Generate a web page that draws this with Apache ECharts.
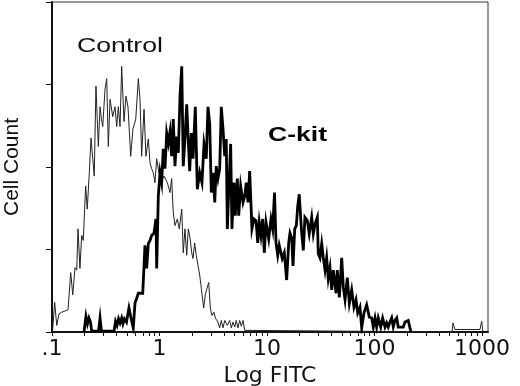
<!DOCTYPE html>
<html>
<head>
<meta charset="utf-8">
<script src="https://cdn.jsdelivr.net/npm/echarts@6/dist/echarts.min.js"></script>
<style>
  html, body { margin: 0; padding: 0; background: #fff; }
  #chart { width: 520px; height: 386px; }
</style>
</head>
<body>
<div id="chart"></div>
<script>
// x values are Log FITC in decades (log10), y values are cell counts
var controlLog = [-0.995, -0.975, -0.956, -0.935, -0.910, -0.888, -0.851, -0.826, -0.807, -0.786,
  -0.770, -0.758, -0.740, -0.724, -0.709, -0.687, -0.672, -0.653, -0.637, -0.621,
  -0.607, -0.591, -0.569, -0.553, -0.540, -0.528, -0.507, -0.491, -0.476, -0.460,
  -0.435, -0.414, -0.398, -0.383, -0.367, -0.352, -0.330, -0.312, -0.293, -0.268,
  -0.247, -0.221, -0.197, -0.181, -0.166, -0.144, -0.126, -0.104, -0.088, -0.073,
  -0.058, -0.042, -0.026, -0.005, 0.020, 0.042, 0.073, 0.098, 0.113, 0.128,
  0.144, 0.166, 0.184, 0.207, 0.221, 0.237, 0.253, 0.268, 0.284, 0.300,
  0.312, 0.327, 0.342, 0.358, 0.374, 0.389, 0.411, 0.426, 0.442, 0.458,
  0.473, 0.488, 0.507, 0.519, 0.544, 0.560, 0.575, 0.591, 0.607, 0.631,
  0.653, 0.668, 0.684, 0.700, 0.714, 0.730, 0.746, 0.761, 0.777, 0.793,
  0.805, 2.721, 2.730, 2.749, 2.981, 2.997, 3.009];
var controlCount = [1, 36, 8, 22, 24, 25, 27, 72, 45, 78,
  75, 125, 77, 117, 111, 177, 149, 193, 235, 210,
  189, 298, 225, 273, 258, 249, 294, 307, 225, 282,
  261, 273, 249, 273, 249, 322, 255, 286, 273, 213,
  246, 258, 307, 282, 213, 270, 213, 234, 205, 198,
  193, 181, 210, 193, 183, 189, 181, 169, 186, 145,
  129, 137, 125, 149, 96, 125, 93, 125, 114, 96,
  89, 108, 93, 81, 69, 53, 29, 45, 53, 60,
  29, 20, 24, 17, 12, 5, 14, 5, 14, 8,
  14, 5, 12, 6, 14, 5, 14, 7, 14, 2,
  0, 0, 11, 3, 3, 13, 0];

var ckitLog = [-0.702, -0.684, -0.670, -0.656, -0.642, -0.631, -0.567, -0.553, -0.540, -0.423,
  -0.409, -0.395, -0.381, -0.367, -0.352, -0.340, -0.326, -0.307, -0.284, -0.265,
  -0.244, -0.228, -0.212, -0.197, -0.177, -0.156, -0.135, -0.119, -0.104, -0.088,
  -0.073, -0.051, -0.033, -0.026, -0.011, 0.005, 0.020, 0.035, 0.051, 0.067,
  0.082, 0.098, 0.113, 0.128, 0.144, 0.160, 0.175, 0.191, 0.207, 0.221,
  0.237, 0.253, 0.268, 0.281, 0.296, 0.312, 0.333, 0.352, 0.374, 0.395,
  0.414, 0.435, 0.451, 0.467, 0.482, 0.498, 0.514, 0.528, 0.544, 0.560,
  0.575, 0.591, 0.607, 0.621, 0.631, 0.647, 0.662, 0.674, 0.693, 0.705,
  0.724, 0.737, 0.755, 0.777, 0.793, 0.807, 0.823, 0.839, 0.860, 0.879,
  0.898, 0.914, 0.928, 0.944, 0.960, 0.975, 0.991, 1.016, 1.037, 1.053,
  1.070, 1.084, 1.100, 1.114, 1.142, 1.161, 1.183, 1.202, 1.214, 1.230,
  1.242, 1.258, 1.273, 1.286, 1.300, 1.321, 1.338, 1.353, 1.375, 1.393,
  1.416, 1.431, 1.447, 1.468, 1.477, 1.493, 1.509, 1.524, 1.540, 1.555,
  1.570, 1.586, 1.602, 1.617, 1.642, 1.654, 1.673, 1.695, 1.710, 1.726,
  1.747, 1.766, 1.788, 1.809, 1.828, 1.844, 1.865, 1.881, 1.902, 1.927,
  1.952, 1.974, 1.989, 2.005, 2.020, 2.035, 2.058, 2.076, 2.098, 2.113,
  2.128, 2.144, 2.160, 2.175, 2.191, 2.207, 2.221, 2.268, 2.284, 2.314,
  2.330, 2.340];
var ckitCount = [0, 19, 10, 17, 12, 1, 1, 17, 1, 1,
  13, 8, 16, 11, 17, 10, 16, 12, 29, 17,
  5, 35, 41, 47, 47, 47, 105, 77, 107, 111,
  117, 120, 137, 77, 165, 193, 181, 222, 198, 241,
  229, 243, 213, 258, 201, 237, 217, 286, 322, 201,
  234, 276, 231, 195, 241, 210, 273, 173, 193, 181,
  228, 210, 273, 253, 169, 193, 157, 201, 186, 198,
  273, 246, 213, 234, 125, 181, 228, 125, 181, 141,
  186, 141, 177, 157, 165, 181, 157, 195, 125, 137,
  135, 108, 133, 117, 137, 96, 133, 113, 137, 125,
  169, 108, 93, 105, 89, 96, 63, 108, 120, 114,
  80, 125, 129, 153, 167, 123, 99, 139, 135, 119,
  139, 119, 131, 139, 95, 90, 107, 90, 75, 90,
  65, 78, 51, 75, 47, 75, 42, 90, 54, 39,
  66, 35, 51, 30, 39, 23, 30, 5, 23, 33,
  18, 17, 6, 17, 6, 17, 6, 17, 6, 11,
  6, 12, 17, 6, 14, 17, 6, 6, 12, 14,
  5, 0];

var tickValues = [0.1, 1, 10, 100, 1000];
var tickLabels = ['.1', '1', '10', '100', '1000'];

var controlData = controlLog.map(function (x, i) { return [x, controlCount[i]]; });
var ckitData = ckitLog.map(function (x, i) { return [x, ckitCount[i]]; });

// major ticks at decades, minor ticks at 2..9 of each decade
var majorTicks = tickValues.map(function (v) { return Math.log10(v); });
var minorTicks = [];
for (var d = 0; d < tickValues.length - 1; d++) {
  for (var k = 1; k < 10; k++) {
    minorTicks.push(Math.log10(tickValues[d] * k));
  }
}
minorTicks.push(Math.log10(tickValues[tickValues.length - 1]));

var myChart = echarts.init(document.getElementById('chart'));
var option = {
  animation: false,
  backgroundColor: '#fff',
  grid: {
    left: 52, right: 32, top: 2, bottom: 54,
    outerBoundsMode: 'none',
    containLabel: false,
    show: true, borderColor: '#333', borderWidth: 1
  },
  xAxis: {
    type: 'value',
    min: -1,
    max: 3.056,
    name: 'Log FITC',
    nameLocation: 'middle',
    nameGap: 32,
    nameTextStyle: { fontFamily: 'DejaVu Sans', fontSize: 22, color: '#111' },
    axisLine: { show: true, onZero: false, lineStyle: { color: '#111', width: 2 } },
    axisTick: {
      show: true, inside: false, length: 4,
      customValues: minorTicks,
      lineStyle: { color: '#111', width: 1 }
    },
    axisLabel: {
      customValues: majorTicks,
      margin: 6,
      fontFamily: 'DejaVu Sans', fontSize: 22, color: '#111',
      formatter: function (v) {
        var i = majorTicks.findIndex(function (m) { return Math.abs(m - v) < 1e-6; });
        return i >= 0 ? tickLabels[i] : '';
      }
    },
    splitLine: { show: false }
  },
  yAxis: {
    type: 'value',
    min: 0,
    max: 400,
    interval: 100,
    name: 'Cell Count',
    nameLocation: 'middle',
    nameGap: 29,
    nameTextStyle: { fontFamily: 'Liberation Sans', fontSize: 21, color: '#111' },
    axisLine: { show: true, onZero: false, lineStyle: { color: '#111', width: 2 } },
    axisTick: { show: true, inside: false, length: 6, lineStyle: { color: '#111', width: 1 } },
    axisLabel: { show: false },
    splitLine: { show: false }
  },
  graphic: [
    {
      type: 'text', x: 77, y: 46, scaleX: 1.27,
      style: { text: 'Control', font: '21px "Liberation Sans"', fill: '#111', verticalAlign: 'middle' }
    },
    {
      type: 'text', x: 268, y: 135, scaleX: 1.33,
      style: { text: 'C-kit', font: 'bold 20px "Liberation Sans"', fill: '#000', verticalAlign: 'middle' }
    }
  ],
  series: [
    {
      name: 'Control',
      type: 'line',
      data: controlData,
      symbol: 'none',
      lineStyle: { color: '#222', width: 1 },
      z: 3
    },
    {
      name: 'C-kit',
      type: 'line',
      data: ckitData,
      symbol: 'none',
      lineStyle: { color: '#000', width: 2.8, join: 'miter' },
      z: 4
    }
  ]
};
myChart.setOption(option);
</script>
</body>
</html>
